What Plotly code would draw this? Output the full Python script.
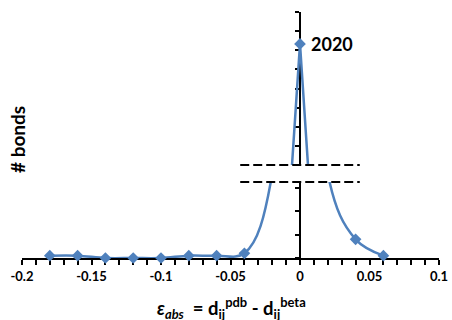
import plotly.graph_objects as go

# ---- data ----
eps = [-0.18, -0.16, -0.14, -0.12, -0.10, -0.08, -0.06, -0.04, -0.02, 0.00, 0.02, 0.04, 0.06]
bonds = [1, 1, 0, 0, 0, 1, 1, 2, 36, 2020, 36, 8, 1]

x_tickvals = [-0.2, -0.15, -0.1, -0.05, 0, 0.05, 0.1]
x_ticktext = ["-0.2", "-0.15", "-0.1", "-0.05", "0", "0.05", "0.1"]

lower_range = [0, 32.55]        # lower segment of broken y axis
lower_dtick = 10
upper_range = [1450, 2170]      # upper segment of broken y axis
upper_dtick = 90

# ---- style ----
BLUE = "#4F81BD"
FONT = "Lato"
W, H = 452, 320
M_L, M_R, M_T, M_B = 22, 13, 12, 62
plot_w = W - M_L - M_R
plot_h = H - M_T - M_B
lower_dom = [0, 76 / plot_h]
upper_dom = [93 / plot_h, 1]
BREAK_HALF = 0.043

peak = max(bonds)
peak_i = bonds.index(peak)

fig = go.Figure()
fig.add_trace(go.Scatter(
    x=eps, y=bonds, mode="lines+markers", xaxis="x", yaxis="y",
    line=dict(color=BLUE, width=2.5, shape="spline"),
    marker=dict(symbol="diamond", size=9, color=BLUE),
    cliponaxis=False, showlegend=False, hoverinfo="skip"))
fig.add_trace(go.Scatter(
    x=eps, y=bonds, mode="lines+markers", xaxis="x", yaxis="y2",
    line=dict(color=BLUE, width=2.5),
    marker=dict(symbol="diamond", size=9, color=BLUE),
    cliponaxis=True, showlegend=False, hoverinfo="skip"))

yax_common = dict(showgrid=False, zeroline=False, showticklabels=False,
                  showline=True, linecolor="black", linewidth=2,
                  ticks="outside", ticklen=4, tickwidth=2, tickcolor="black",
                  anchor="free", position=2 / 3, layer="below traces",
                  tickmode="linear", automargin=False)

fig.update_layout(
    width=W, height=H,
    margin=dict(l=M_L, r=M_R, t=M_T, b=M_B, autoexpand=False),
    paper_bgcolor="white", plot_bgcolor="white",
    xaxis=dict(range=[-0.2, 0.1], domain=[0, 1], anchor="y", automargin=False,
               tickmode="array", tickvals=x_tickvals, ticktext=x_ticktext,
               tickfont=dict(family=FONT, size=13, color="black", weight="bold"),
               showline=True, linecolor="black", linewidth=2,
               ticks="outside", ticklen=5, tickwidth=1.5, tickcolor="black",
               minor=dict(ticks="outside", tickmode="linear", tick0=-0.2, dtick=0.01,
                          ticklen=5, tickwidth=1.5, tickcolor="black"),
               showgrid=False, zeroline=False, layer="below traces"),
    yaxis=dict(domain=lower_dom, range=lower_range, tick0=0, dtick=lower_dtick,
               side="left", **yax_common),
    yaxis3=dict(overlaying="y", range=lower_range, tick0=0, dtick=lower_dtick,
                side="right", **yax_common),
    yaxis2=dict(domain=upper_dom, range=upper_range, tick0=upper_range[0], dtick=upper_dtick,
                side="left", **yax_common),
    yaxis4=dict(overlaying="y2", range=upper_range, tick0=upper_range[0], dtick=upper_dtick,
                side="right", **yax_common),
)

# break marker: white gap + dashed lines
fig.add_shape(type="rect", xref="x", yref="paper", x0=-BREAK_HALF, x1=BREAK_HALF,
              y0=lower_dom[1], y1=upper_dom[0], fillcolor="white", line=dict(width=0),
              layer="above")
for yb in (lower_dom[1], upper_dom[0]):
    fig.add_shape(type="line", xref="x", yref="paper", x0=-BREAK_HALF, x1=BREAK_HALF,
                  y0=yb, y1=yb, line=dict(color="black", width=2, dash="9px,4px"),
                  layer="above")

# peak label
fig.add_annotation(xref="x", yref="y2", x=eps[peak_i], y=peak, text=str(peak),
                   xanchor="left", yanchor="middle", xshift=9, showarrow=False,
                   font=dict(family=FONT, size=18, color="black", weight="bold"))

# axis titles
fig.add_annotation(xref="paper", yref="paper", x=(231 - M_L) / plot_w, y=(258 - 308) / plot_h,
                   xanchor="center", yanchor="middle", showarrow=False,
                   text="<i>ε<sub>abs</sub></i>\u00a0\u00a0= d<sub>ij</sub><sup>pdb</sup> - d<sub>ij</sub><sup>beta</sup>",
                   font=dict(family=FONT, size=18.5, color="black", weight="bold"))
fig.add_annotation(xref="paper", yref="paper", x=(17 - M_L) / plot_w,
                   y=(258 - 140) / plot_h, xanchor="center", yanchor="middle",
                   showarrow=False, textangle=-90, text="# bonds",
                   font=dict(family=FONT, size=19, color="black", weight="bold"))

fig.write_html("out.html")
